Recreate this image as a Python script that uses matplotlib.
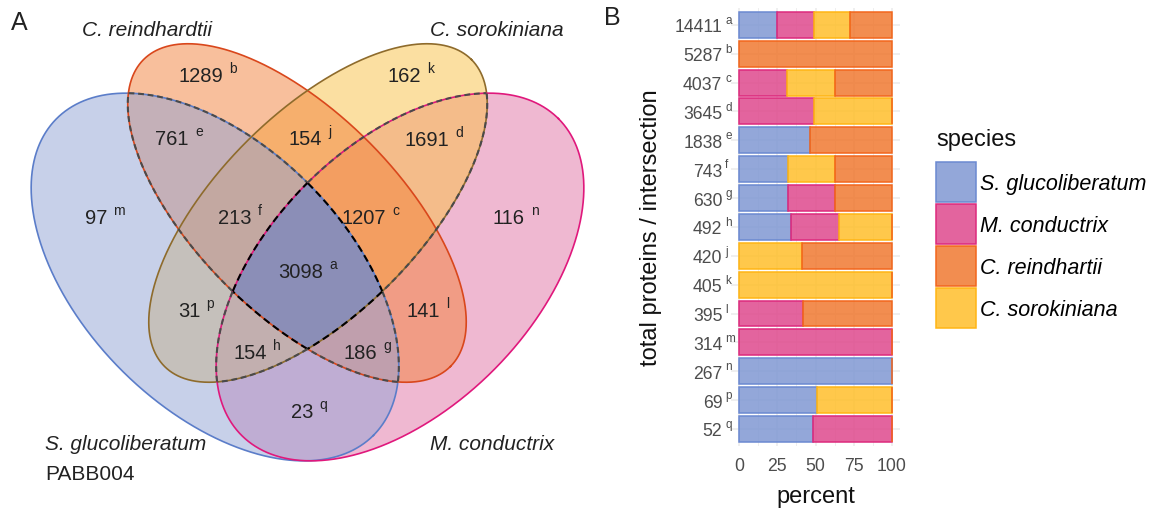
import numpy as np
import matplotlib
matplotlib.use("Agg")
import matplotlib.pyplot as plt
from matplotlib.patches import Patch
from matplotlib.colors import to_rgba
from matplotlib.transforms import offset_copy

plt.rcParams['font.family'] = ['Liberation Sans', 'DejaVu Sans']

W, H = 1156, 510

# ── panel A: orthogroups per Venn region ──
region_letters = ['a', 'b', 'c', 'd', 'e', 'f', 'g', 'h', 'j', 'k', 'l', 'm', 'n', 'p', 'q']
region_counts = [3098, 1289, 1207, 1691, 761, 213, 186, 154, 154, 162, 141, 97, 116, 31, 23]

# ── panel B: proteins per intersection, split by species ──
bar_letters = ['a', 'b', 'c', 'd', 'e', 'f', 'g', 'h', 'j', 'k', 'l', 'm', 'n', 'p', 'q']
bar_totals = [14411, 5287, 4037, 3645, 1838, 743, 630, 492, 420, 405, 395, 314, 267, 69, 52]
prot_glu = [3545, 0, 0, 0, 847, 236, 202, 166, 0, 0, 0, 0, 267, 35, 25]
prot_con = [3502, 0, 1272, 1797, 0, 0, 195, 157, 0, 0, 164, 314, 0, 0, 27]
prot_sor = [3444, 0, 1272, 1848, 0, 231, 0, 169, 173, 405, 0, 0, 0, 34, 0]
prot_rei = [3920, 5287, 1493, 0, 991, 276, 233, 0, 247, 0, 231, 0, 0, 0, 0]

legend_names = ["S. glucoliberatum", "M. conductrix", "C. reindhartii", "C. sorokiniana"]

# ─────────────────────────────────────────────
#  STYLE / GEOMETRY
# ─────────────────────────────────────────────
# ellipses in panel-A pixel space: centre x, centre y, semi-major, semi-minor, tilt
ELLIPSES = {
    'glu': (215, 278, 224, 132, 45),
    'rei': (297, 214, 217, 101, 45),
    'sor': (318, 214, 217, 101, -45),
    'con': (400, 278, 224, 132, -45),
}
VENN_FILL = {'glu': '#91A3D5', 'con': '#E173A5', 'sor': '#F9C145', 'rei': '#F3813A'}
VENN_EDGE = {'glu': '#5B7DC9', 'con': '#E0187C', 'sor': '#8E6B2C', 'rei': '#D9471C'}
CORE = '#8B8EB7'

region_xy = [(301, 273), (201, 77), (364, 219), (427, 141), (172, 140), (235, 219),
             (360, 354), (250, 354), (305, 140), (404, 77), (423, 312), (96, 219),
             (509, 219), (189, 312), (302, 413)]

BAR_FILL = {'glu': '#8098D3', 'con': '#DF498D', 'sor': '#FFBF2B', 'rei': '#F07931'}
BAR_EDGE = {'glu': '#6B89D1', 'con': '#DD2A7D', 'sor': '#FFB515', 'rei': '#F2661C'}
TXT = '#222222'
TICK = '#4D4D4D'
GRID = '#EBEBEB'

t = np.linspace(0, 2 * np.pi, 2400)


def outline(cx, cy, a, b, ang):
    th = np.radians(ang)
    u, v = a * np.cos(t), b * np.sin(t)
    return cx + u * np.cos(th) - v * np.sin(th), cy + u * np.sin(th) + v * np.cos(th)


def inside(x, y, cx, cy, a, b, ang):
    th = np.radians(ang)
    dx, dy = x - cx, y - cy
    u = dx * np.cos(th) + dy * np.sin(th)
    v = -dx * np.sin(th) + dy * np.cos(th)
    return (u / a) ** 2 + (v / b) ** 2 < 1


fig = plt.figure(figsize=(W / 100, H / 100), dpi=100)

# ─────────────────────────────────────────────
#  PANEL A  –  Venn
# ─────────────────────────────────────────────
ax = fig.add_axes([0, 0, 630 / W, 1])
ax.set_xlim(0, 630)
ax.set_ylim(H, 0)
ax.axis('off')

pts = {k: outline(*v) for k, v in ELLIPSES.items()}
for k in ['con', 'sor', 'rei', 'glu']:
    ax.fill(*pts[k], color=VENN_FILL[k], alpha=0.5, lw=0)

# region shared by all four gets its own shade
core_masks = {}
cx, cy = [], []
for k in ELLIPSES:
    x, y = pts[k]
    m = np.ones_like(x, dtype=bool)
    for o in ELLIPSES:
        if o != k:
            m &= inside(x, y, *ELLIPSES[o])
    core_masks[k] = m
    cx.append(x[m])
    cy.append(y[m])
cx, cy = np.concatenate(cx), np.concatenate(cy)
order = np.argsort(np.arctan2(cy - cy.mean(), cx - cx.mean()))
ax.fill(cx[order], cy[order], color=CORE, lw=0)

for k in ELLIPSES:
    ax.plot(*pts[k], color=VENN_EDGE[k], lw=1.2)

# dashed borders where the paired sets overlap
for k, other in [('glu', 'rei'), ('rei', 'glu'), ('con', 'sor'), ('sor', 'con')]:
    x, y = pts[k]
    m = inside(x, y, *ELLIPSES[other])
    c = core_masks[k]
    ax.plot(np.where(m & ~c, x, np.nan), np.where(m & ~c, y, np.nan),
            color='#4A4A4A', lw=1.5, dashes=(2.8, 1.8))
    ax.plot(np.where(c, x, np.nan), np.where(c, y, np.nan),
            color='#000000', lw=1.5, dashes=(3.5, 2))

for n, letter, (px, py) in zip(region_counts, region_letters, region_xy):
    num = ax.text(px, py, str(n), ha='center', va='center', fontsize=14.5, color=TXT)
    ax.annotate(letter, xy=(1, 0), xycoords=num, xytext=(4.5, 9.4),
                textcoords='offset points', ha='left', va='baseline',
                fontsize=10, color=TXT)

ax.text(147, 31, "C. reindhardtii", style='italic', fontsize=15, ha='center', va='center', color=TXT)
ax.text(497, 31, "C. sorokiniana", style='italic', fontsize=15, ha='center', va='center', color=TXT)
ax.text(45, 445, "S. glucoliberatum", style='italic', fontsize=15, ha='left', va='center', color=TXT)
ax.text(45, 475, "PABB004", fontsize=15, ha='left', va='center', color=TXT)
ax.text(492, 445, "M. conductrix", style='italic', fontsize=15, ha='center', va='center', color=TXT)

fig.text(19 / W, 1 - 23 / H, "A", fontsize=18, ha='center', va='center', color=TXT)
fig.text(612 / W, 1 - 18 / H, "B", fontsize=18, ha='center', va='center', color=TXT)

# ─────────────────────────────────────────────
#  PANEL B  –  stacked percent bars
# ─────────────────────────────────────────────
axb = fig.add_axes([731.4 / W, (H - 447.3) / H, 168.3 / W, 438.8 / H])
n_rows = len(bar_totals)
ypos = np.arange(n_rows)
totals = np.array(bar_totals, dtype=float)

left = np.zeros(n_rows)
for key, vals in [('glu', prot_glu), ('con', prot_con), ('sor', prot_sor), ('rei', prot_rei)]:
    pct = np.array(vals) / totals * 100
    keep = pct > 0 if key != 'rei' else np.ones(n_rows, dtype=bool)
    axb.barh(ypos[keep], pct[keep], left=left[keep], height=0.9,
             facecolor=to_rgba(BAR_FILL[key], 0.85), edgecolor=BAR_EDGE[key],
             linewidth=1.1, zorder=2)
    left += pct

axb.set_xlim(-5, 105)
axb.set_ylim(n_rows - 1 + 0.6, -0.6)
axb.set_xticks([0, 25, 50, 75, 100])
axb.set_xticks([12.5, 37.5, 62.5, 87.5], minor=True)
axb.set_yticks(ypos, labels=[str(v) for v in bar_totals])
axb.tick_params(axis='both', which='both', length=0, labelsize=12.7, labelcolor=TICK)
axb.tick_params(axis='y', pad=6.5)
axb.tick_params(axis='x', pad=8)
axb.grid(True, which='major', color=GRID, lw=1.1, zorder=0)
axb.grid(True, which='minor', axis='x', color=GRID, lw=0.6, zorder=0)
axb.set_axisbelow(True)
for s in axb.spines.values():
    s.set_visible(False)

letter_tf = offset_copy(axb.get_yaxis_transform(), fig=fig, x=-6.4, y=1.8, units='dots')
for i, letter in enumerate(bar_letters):
    axb.text(0, i, letter, transform=letter_tf, ha='left', va='baseline',
             fontsize=8.5, color=TICK, clip_on=False)

fig.text(651 / W, 1 - 228 / H, "total proteins / intersection", rotation=90,
         fontsize=17, ha='center', va='center', color='#111111')
fig.text(816 / W, 1 - 497 / H, "percent", fontsize=17, ha='center', va='center', color='#111111')

# legend
handles = [Patch(facecolor=to_rgba(BAR_FILL[k], 0.85), edgecolor=BAR_EDGE[k], linewidth=1.1)
           for k in ['glu', 'con', 'rei', 'sor']]
fig.legend(handles, legend_names, loc='upper left', bbox_to_anchor=(936 / W, 1 - 163 / H),
           frameon=False, prop={'style': 'italic', 'size': 15.5},
           handlelength=1.86, handleheight=2.485, handletextpad=0.2,
           labelspacing=0.09, borderpad=0, borderaxespad=0)
fig.text(936 / W, 1 - 140 / H, "species", fontsize=17, ha='left', va='center', color='#111111')

fig.savefig("out.png", dpi=100)
